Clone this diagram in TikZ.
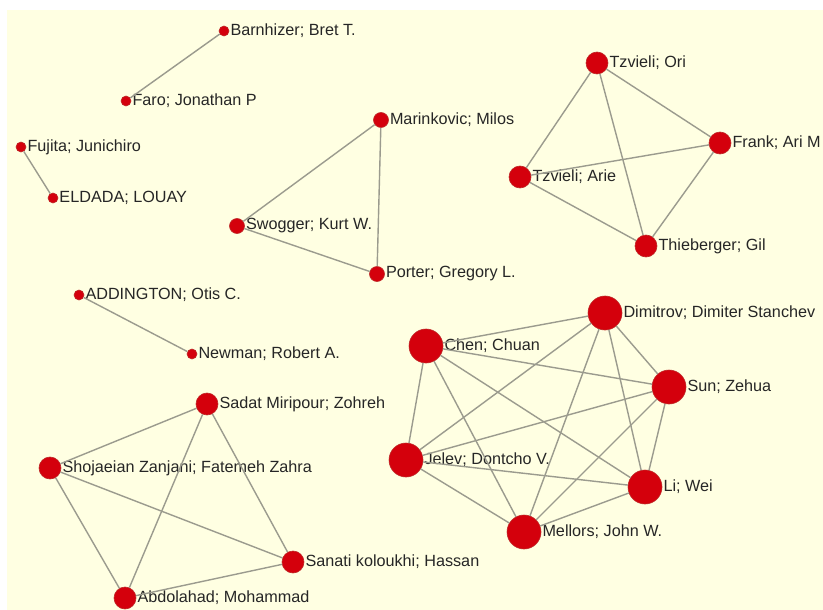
\documentclass[tikz,border=0pt]{standalone}
\usepackage{fontspec}
\setmainfont{Liberation Sans}
\definecolor{bgc}{RGB}{255,255,226}
\definecolor{nodered}{RGB}{212,0,12}
\definecolor{noderim}{RGB}{190,40,40}
\definecolor{edgec}{RGB}{155,155,142}
\tikzset{
  au/.style={circle,fill=nodered,draw=noderim,line width=0.6pt,inner sep=0pt,minimum size=#1,
    label distance=1.5pt},
  lbl/.style={font=\fontsize{16.2}{19}\selectfont,text=black!85,inner sep=1pt,anchor=west},
  ed/.style={draw=edgec,line width=1.4pt}
}
\begin{document}
\begin{tikzpicture}[x=1pt,y=-1pt]
\useasboundingbox (0,0) rectangle (823,610);
\fill[white] (0,0) rectangle (823,610);
\fill[bgc] (7,10) rectangle (823,610);
% small pairs
\node[au=10,label={[lbl]right:Barnhizer; Bret T.}] (bar) at (224,31) {};
\node[au=10,label={[lbl]right:Faro; Jonathan P}] (far) at (126,101) {};
\node[au=10,label={[lbl]right:Fujita; Junichiro}] (fuj) at (21,147) {};
\node[au=10,label={[lbl]right:ELDADA; LOUAY}] (eld) at (53,198) {};
\node[au=10,label={[lbl]right:ADDINGTON; Otis C.}] (add) at (79,295) {};
\node[au=10,label={[lbl]right:Newman; Robert A.}] (new) at (192,354) {};
% triangle
\node[au=15,label={[lbl]right:Marinkovic; Milos}] (mar) at (381,120) {};
\node[au=15,label={[lbl]right:Swogger; Kurt W.}] (swo) at (237,226) {};
\node[au=15,label={[lbl]right:Porter; Gregory L.}] (por) at (377,274) {};
% Tzvieli group
\node[au=22,label={[lbl]right:Tzvieli; Ori}] (ori) at (597,63) {};
\node[au=22,label={[lbl]right:Frank; Ari M}] (fra) at (720,143) {};
\node[au=22,label={[lbl]right:Tzvieli; Arie}] (ari) at (520,177) {};
\node[au=22,label={[lbl]right:Thieberger; Gil}] (thi) at (646,246) {};
% Iranian group
\node[au=22,label={[lbl]right:Sadat Miripour; Zohreh}] (sad) at (207,404) {};
\node[au=22,label={[lbl]right:Shojaeian Zanjani; Fatemeh Zahra}] (sho) at (50,468) {};
\node[au=22,label={[lbl]right:Sanati koloukhi; Hassan}] (san) at (293,562) {};
\node[au=22,label={[lbl]right:Abdolahad; Mohammad}] (abd) at (125,598) {};
% big group
\node[au=34,label={[lbl]right:Dimitrov; Dimiter Stanchev}] (dim) at (605,313) {};
\node[au=34,label={[lbl]right:Chen; Chuan}] (che) at (426,346) {};
\node[au=34,label={[lbl]right:Sun; Zehua}] (sun) at (669,387) {};
\node[au=34,label={[lbl]right:Jelev; Dontcho V.}] (jel) at (406,460) {};
\node[au=34,label={[lbl]right:Li; Wei}] (li) at (645,487) {};
\node[au=34,label={[lbl]right:Mellors; John W.}] (mel) at (524,532) {};
% edges
\draw[ed] (bar) -- (far);
\draw[ed] (fuj) -- (eld);
\draw[ed] (add) -- (new);
\draw[ed] (mar) -- (swo);
\draw[ed] (mar) -- (por);
\draw[ed] (swo) -- (por);
\draw[ed] (ori) -- (fra);
\draw[ed] (ori) -- (ari);
\draw[ed] (ori) -- (thi);
\draw[ed] (fra) -- (ari);
\draw[ed] (fra) -- (thi);
\draw[ed] (ari) -- (thi);
\draw[ed] (sad) -- (sho);
\draw[ed] (sad) -- (san);
\draw[ed] (sad) -- (abd);
\draw[ed] (sho) -- (san);
\draw[ed] (sho) -- (abd);
\draw[ed] (san) -- (abd);
\draw[ed] (che) -- (dim);
\draw[ed] (che) -- (sun);
\draw[ed] (che) -- (jel);
\draw[ed] (che) -- (li);
\draw[ed] (che) -- (mel);
\draw[ed] (dim) -- (sun);
\draw[ed] (dim) -- (jel);
\draw[ed] (dim) -- (li);
\draw[ed] (dim) -- (mel);
\draw[ed] (sun) -- (jel);
\draw[ed] (sun) -- (li);
\draw[ed] (sun) -- (mel);
\draw[ed] (jel) -- (li);
\draw[ed] (jel) -- (mel);
\draw[ed] (li) -- (mel);
\end{tikzpicture}
\end{document}
